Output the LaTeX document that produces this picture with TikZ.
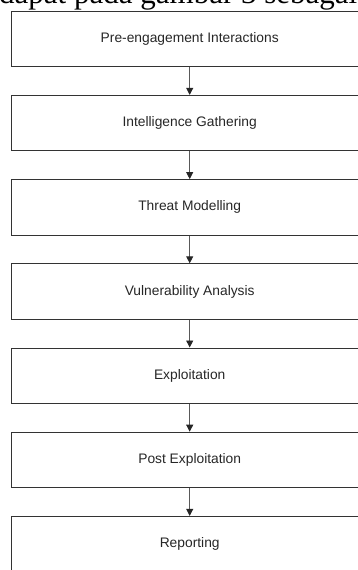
\documentclass[tikz,border=0pt]{standalone}
\usepackage{fontspec}
\setmainfont{Liberation Sans}
\newfontfamily\capserif{Liberation Serif}
\usetikzlibrary{arrows.meta}
\begin{document}
\begin{tikzpicture}[x=1pt,y=-1pt,
  stagebox/.style={draw=black!80, line width=0.9pt, minimum width=357.5pt,
    minimum height=55.5pt, anchor=north west, inner sep=0pt,
    font=\fontsize{13.8}{16}\selectfont, text=black!85,
    text height=10pt, text depth=3pt},
  flow/.style={draw=black!65, line width=0.9pt,
    -{Triangle[length=7pt,width=7pt,fill=black!85,color=black!85]}}]
\useasboundingbox (0,0) rectangle (358,570);
\clip (0,0) rectangle (358,570);
\node[anchor=base west, font=\capserif\fontsize{31}{36}\selectfont, inner sep=0pt] (cap) at (-1,4) {dapat pada gambar 3 sebagai};
\foreach \i/\t in {0/Pre-engagement Interactions,1/Intelligence Gathering,2/Threat Modelling,3/Vulnerability Analysis,4/Exploitation,5/Post Exploitation,6/Reporting}{
  \node[stagebox] (b\i) at (10.5,{10.7+84.2*\i}) {\t};
}
\foreach \i [evaluate=\i as \j using int(\i+1)] in {0,...,5}{
  \draw[flow] (b\i.south) -- (b\j.north);
}
\end{tikzpicture}
\end{document}
